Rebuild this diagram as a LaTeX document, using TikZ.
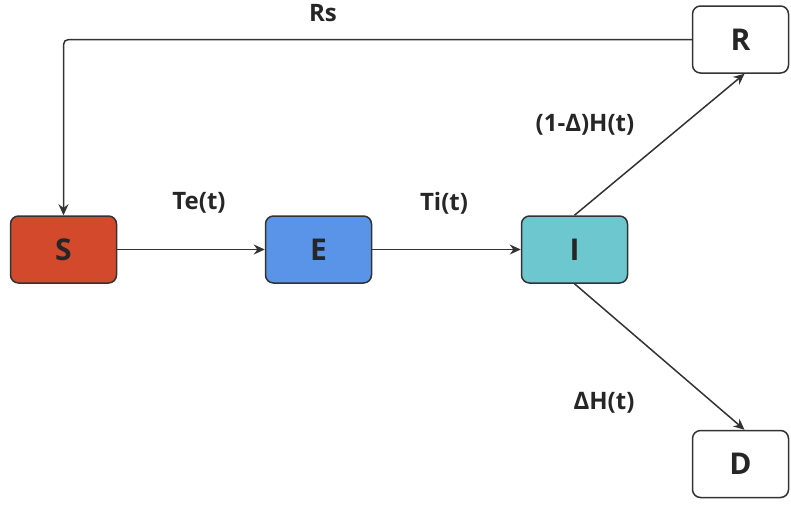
\documentclass[tikz,border=0pt]{standalone}
\usepackage{fontspec}
\setmainfont{Open Sans}
\usetikzlibrary{arrows.meta}
\definecolor{lc}{HTML}{333333}
\definecolor{cS}{HTML}{D2492B}
\definecolor{cE}{HTML}{5A94E8}
\definecolor{cI}{HTML}{6CC8CE}
\begin{document}
\begin{tikzpicture}[x=1pt,y=-1pt,
  box/.style={draw=lc,line width=1.5pt,rounded corners=8pt,minimum width=106pt,minimum height=67pt,inner sep=0pt,font=\fontsize{30}{32}\selectfont\bfseries,text=black!85},
  lab/.style={font=\fontsize{24}{26}\selectfont\bfseries,text=black!85,inner sep=0pt},
  conn/.style={draw=lc,line width=1.5pt,-{Stealth[length=11pt,width=10pt]}}]
\useasboundingbox (0,0) rectangle (791,506);
\node[box,fill=cS] (S) at (63.5,249.5) {S};
\node[box,fill=cE] (E) at (318.5,249.5) {E};
\node[box,fill=cI] (I) at (574.5,249.5) {I};
\node[box,fill=white,minimum width=96pt] (R) at (740.5,39.5) {R};
\node[box,fill=white,minimum width=96pt] (D) at (740.5,464) {D};
\draw[conn] (S.east) -- (E.west);
\draw[conn] (E.east) -- (I.west);
\draw[conn] (I.north) -- ([xshift=4pt]R.south);
\draw[conn] (I.south) -- ([xshift=4pt]D.north);
\draw[conn,rounded corners=5pt] (R.west) -| (S.north);
\node[lab] (lRs) at (323,13) {Rs};
\node[lab] (lTe) at (199,203) {Te(t)};
\node[lab] (lTi) at (444,203) {Ti(t)};
\node[lab] (lRH) at (585,125) {(1-Δ)H(t)};
\node[lab] (lDH) at (604,403) {ΔH(t)};
\end{tikzpicture}
\end{document}
